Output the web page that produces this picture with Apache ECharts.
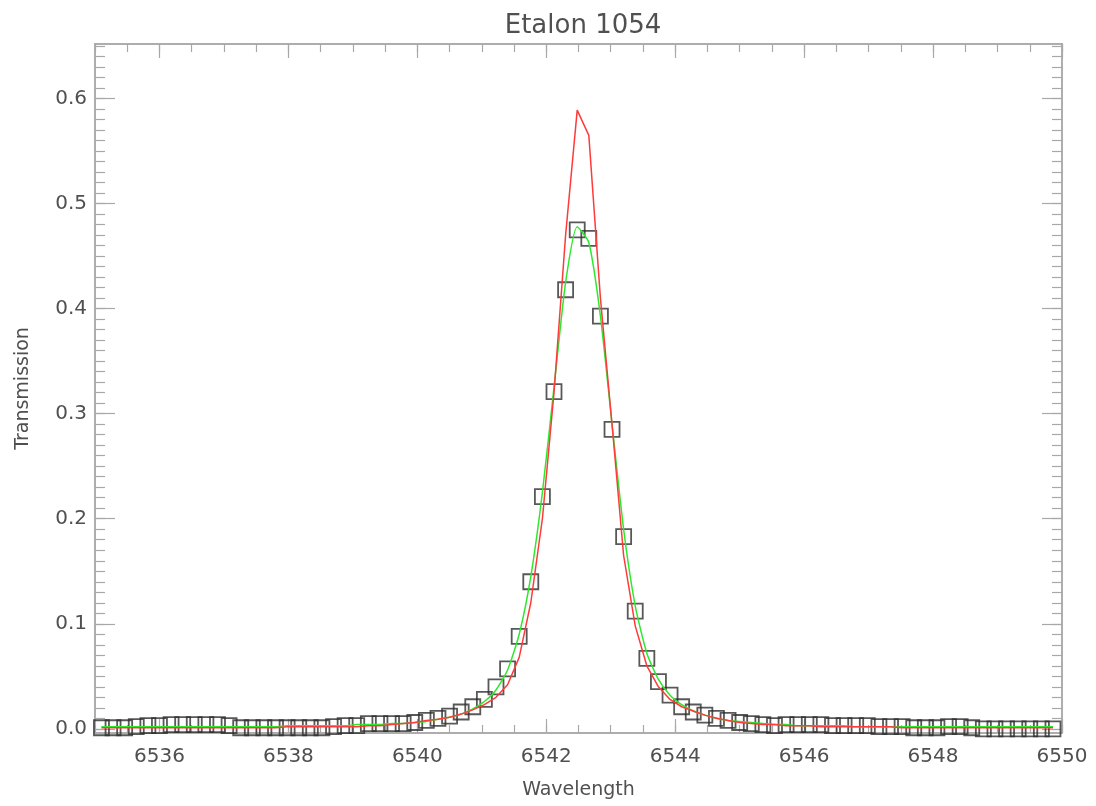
<!DOCTYPE html>
<html>
<head>
<meta charset="utf-8">
<title>Etalon 1054</title>
<script src="https://cdn.jsdelivr.net/npm/echarts@6/dist/echarts.min.js"></script>
<style>
  html, body { margin: 0; padding: 0; background: #fff; }
  #chart { width: 1096px; height: 806px; }
</style>
</head>
<body>
<div id="chart"></div>
<script>
// wavelength grid of the measured points (Angstrom)
var wavelength = [
  6535.10, 6535.28, 6535.46, 6535.64, 6535.82, 6536.00, 6536.18, 6536.36, 6536.54, 6536.72,
  6536.90, 6537.08, 6537.26, 6537.44, 6537.62, 6537.80, 6537.98, 6538.16, 6538.34, 6538.52,
  6538.70, 6538.88, 6539.06, 6539.24, 6539.42, 6539.60, 6539.78, 6539.96, 6540.14, 6540.32,
  6540.50, 6540.68, 6540.86, 6541.04, 6541.22, 6541.40, 6541.58, 6541.76, 6541.94, 6542.12,
  6542.30, 6542.48, 6542.66, 6542.84, 6543.02, 6543.20, 6543.38, 6543.56, 6543.74, 6543.92,
  6544.10, 6544.28, 6544.46, 6544.64, 6544.82, 6545.00, 6545.18, 6545.36, 6545.54, 6545.72,
  6545.90, 6546.08, 6546.26, 6546.44, 6546.62, 6546.80, 6546.98, 6547.16, 6547.34, 6547.52,
  6547.70, 6547.88, 6548.06, 6548.24, 6548.42, 6548.60, 6548.78, 6548.96, 6549.14, 6549.32,
  6549.50, 6549.68, 6549.86
];
// measured transmission (squares)
var measured = [
  0.001, 0.001, 0.001, 0.002, 0.003, 0.003, 0.004, 0.004, 0.004, 0.004,
  0.004, 0.003, 0.001, 0.001, 0.001, 0.001, 0.001, 0.001, 0.001, 0.001,
  0.002, 0.003, 0.003, 0.005, 0.005, 0.005, 0.005, 0.006, 0.008, 0.010,
  0.012, 0.016, 0.021, 0.028, 0.040, 0.057, 0.088, 0.140, 0.221, 0.321,
  0.418, 0.475, 0.467, 0.393, 0.285, 0.183, 0.112, 0.067, 0.045, 0.032,
  0.021, 0.016, 0.013, 0.010, 0.008, 0.006, 0.005, 0.004, 0.003, 0.004,
  0.004, 0.004, 0.004, 0.003, 0.003, 0.003, 0.003, 0.002, 0.002, 0.002,
  0.001, 0.001, 0.001, 0.002, 0.002, 0.001, 0.000, 0.000, 0.000, 0.000,
  0.000, 0.000, 0.000
];
// fitted profile (green)
var fitted = [
  0.002, 0.002, 0.002, 0.002, 0.002, 0.002, 0.002, 0.002, 0.002, 0.002,
  0.002, 0.002, 0.002, 0.002, 0.002, 0.002, 0.003, 0.003, 0.003, 0.003,
  0.003, 0.003, 0.004, 0.004, 0.004, 0.005, 0.005, 0.006, 0.007, 0.009,
  0.011, 0.014, 0.019, 0.026, 0.037, 0.056, 0.090, 0.145, 0.225, 0.325,
  0.425, 0.478, 0.463, 0.393, 0.290, 0.190, 0.117, 0.072, 0.047, 0.032,
  0.023, 0.017, 0.013, 0.010, 0.008, 0.007, 0.006, 0.005, 0.004, 0.004,
  0.003, 0.003, 0.003, 0.003, 0.003, 0.002, 0.002, 0.002, 0.002, 0.002,
  0.002, 0.002, 0.002, 0.002, 0.002, 0.002, 0.002, 0.002, 0.002, 0.002,
  0.002, 0.002, 0.002
];
// theoretical etalon profile (red)
var model = [
  0.001, 0.001, 0.001, 0.001, 0.001, 0.001, 0.001, 0.001, 0.001, 0.001,
  0.001, 0.001, 0.001, 0.001, 0.001, 0.001, 0.002, 0.002, 0.002, 0.002,
  0.002, 0.002, 0.002, 0.003, 0.003, 0.004, 0.005, 0.006, 0.008, 0.009,
  0.011, 0.014, 0.018, 0.023, 0.030, 0.042, 0.068, 0.120, 0.200, 0.320,
  0.470, 0.589, 0.565, 0.410, 0.290, 0.165, 0.098, 0.060, 0.040, 0.028,
  0.021, 0.017, 0.013, 0.010, 0.008, 0.006, 0.005, 0.004, 0.004, 0.003,
  0.003, 0.003, 0.002, 0.002, 0.002, 0.002, 0.002, 0.002, 0.002, 0.001,
  0.001, 0.001, 0.001, 0.001, 0.001, 0.001, 0.001, 0.001, 0.001, 0.001,
  0.001, 0.001, 0.001
];
var xTickLabels = [6536, 6538, 6540, 6542, 6544, 6546, 6548, 6550];
var yTickLabels = [0.0, 0.1, 0.2, 0.3, 0.4, 0.5, 0.6];

var xMin = 6535, xMax = 6550;
var yMin = -0.004, yMax = 0.652;

// minor tick positions
var xMinor = [];
for (var v = xMin; v <= xMax + 1e-9; v += 0.5) xMinor.push(+v.toFixed(2));
var yMinor = [];
for (var k = 0; k <= 65; k++) yMinor.push(+(k * 0.01).toFixed(2));

function pairs(ys) {
  return wavelength.map(function (x, i) { return [x, ys[i]]; });
}

var axisGray = '#a8a8a8';
var textGray = '#505050';
var font = 'DejaVu Sans';

function xAx(pos, major, labels) {
  return {
    type: 'value', position: pos, min: xMin, max: xMax, gridIndex: 0,
    axisLine: { show: true, onZero: false, lineStyle: { color: axisGray, width: 1.5 } },
    axisTick: {
      show: true, inside: true, length: major ? 14 : 8,
      customValues: major ? xTickLabels : xMinor,
      lineStyle: { color: axisGray, width: 1.2 }
    },
    axisLabel: {
      show: labels, customValues: xTickLabels, margin: 14,
      color: textGray, fontSize: 20, fontFamily: font,
      formatter: function (val) { return String(Math.round(val)); }
    },
    splitLine: { show: false },
    name: labels ? 'Wavelength' : '',
    nameLocation: 'middle', nameGap: 48,
    nameTextStyle: { color: textGray, fontSize: 19, fontFamily: font }
  };
}

function yAx(pos, major, labels) {
  return {
    type: 'value', position: pos, min: yMin, max: yMax, gridIndex: 0,
    axisLine: { show: true, onZero: false, lineStyle: { color: axisGray, width: 1.5 } },
    axisTick: {
      show: true, inside: true, length: major ? 20 : 10,
      customValues: major ? yTickLabels : yMinor,
      lineStyle: { color: axisGray, width: 1.2 }
    },
    axisLabel: {
      show: labels, customValues: yTickLabels, margin: 8,
      color: textGray, fontSize: 20, fontFamily: font,
      formatter: function (val) { return val.toFixed(1); }
    },
    splitLine: { show: false },
    name: labels ? 'Transmission' : '',
    nameLocation: 'middle', nameGap: 62,
    nameTextStyle: { color: textGray, fontSize: 19, fontFamily: font }
  };
}

var chart = echarts.init(document.getElementById('chart'), null, { renderer: 'canvas' });
chart.setOption({
  animation: false,
  backgroundColor: '#ffffff',
  title: {
    text: 'Etalon 1054',
    left: 578, top: 8, textAlign: 'center',
    textStyle: { color: textGray, fontSize: 26, fontWeight: 'normal', fontFamily: font }
  },
  grid: { left: 95, right: 34, top: 44, bottom: 73 },
  xAxis: [
    xAx('bottom', true, true),
    xAx('bottom', false, false),
    xAx('top', true, false),
    xAx('top', false, false)
  ],
  yAxis: [
    yAx('left', true, true),
    yAx('left', false, false),
    yAx('right', true, false),
    yAx('right', false, false)
  ],
  series: [
    {
      name: 'measured', type: 'scatter', xAxisIndex: 0, yAxisIndex: 0,
      data: pairs(measured), symbol: 'rect', symbolSize: 15, z: 3,
      itemStyle: { color: 'rgba(0,0,0,0)', borderColor: '#2e2e2e', borderWidth: 1.8 }
    },
    {
      name: 'fit', type: 'line', xAxisIndex: 0, yAxisIndex: 0,
      data: pairs(fitted), showSymbol: false, smooth: 0.2, z: 4,
      lineStyle: { color: '#2ee82e', width: 1.5 }
    },
    {
      name: 'model', type: 'line', xAxisIndex: 0, yAxisIndex: 0,
      data: pairs(model), showSymbol: false, z: 5,
      lineStyle: { color: '#ff3a3a', width: 1.5 }
    }
  ]
});
</script>
</body>
</html>
